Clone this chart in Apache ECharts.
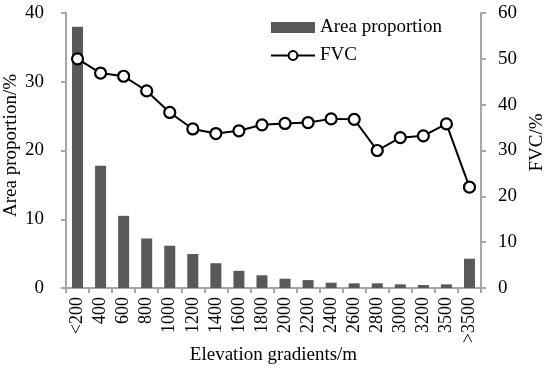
<!DOCTYPE html>
<html><head><meta charset="utf-8">
<script src="https://cdn.jsdelivr.net/npm/echarts@6/dist/echarts.min.js"></script>
<style>html,body{margin:0;padding:0;background:#fff}#c{width:550px;height:369px}</style>
</head><body><div id="c"></div>
<script>
const categories = ['<200','400','600','800','1000','1200','1400','1600','1800','2000','2200','2400','2600','2800','3000','3200','3500','>3500'];
const areaProportion = [38.0,17.8,10.5,7.2,6.15,4.95,3.6,2.5,1.85,1.35,1.15,0.77,0.68,0.68,0.53,0.44,0.53,4.26];
const fvc = [50.0,46.9,46.2,43.0,38.3,34.7,33.7,34.3,35.6,35.9,36.1,36.9,36.8,30.0,32.8,33.2,35.8,22.0];
const leftTicks = {min:0,max:40,interval:10};
const rightTicks = {min:0,max:60,interval:10};

const font = '"Liberation Serif","Times New Roman",serif';
const axisGray = '#a6a6a6';
const chart = echarts.init(document.getElementById('c'), null, {renderer:'canvas'});
chart.setOption({
  backgroundColor:'#fff',
  animation:false,
  textStyle:{fontFamily:font},
  grid:{left:66,right:69,top:13,bottom:81,containLabel:false,outerBoundsMode:'none'},
  legend:{
    orient:'vertical', left:265, top:13, itemGap:9, itemWidth:44, itemHeight:11,
    textStyle:{fontFamily:font,fontSize:19,color:'#000'},
    data:[{name:'Area proportion',icon:'rect'},{name:'FVC'}]
  },
  xAxis:{
    type:'category', data:categories,
    name:'Elevation gradients/m', nameLocation:'middle', nameGap:58, nameMoveOverlap:false,
    nameTextStyle:{fontFamily:font,fontSize:19,color:'#000'},
    axisLine:{lineStyle:{color:axisGray,width:2}},
    axisTick:{show:true,length:5,lineStyle:{color:axisGray,width:2},alignWithLabel:false},
    axisLabel:{rotate:90,margin:9,fontFamily:font,fontSize:18,color:'#000',interval:0}
  },
  yAxis:[{
    type:'value', min:leftTicks.min, max:leftTicks.max, interval:leftTicks.interval,
    name:'Area proportion/%', nameLocation:'middle', nameGap:45, nameRotate:90, nameMoveOverlap:false,
    nameTextStyle:{fontFamily:font,fontSize:19,color:'#000',padding:[0,0,0,10]},
    axisLine:{show:true,lineStyle:{color:axisGray,width:2}},
    axisTick:{show:true,length:5,lineStyle:{color:axisGray,width:2}},
    axisLabel:{margin:22,fontFamily:font,fontSize:19,color:'#000'},
    splitLine:{show:false}
  },{
    type:'value', min:rightTicks.min, max:rightTicks.max, interval:rightTicks.interval,
    position:'right',
    name:'FVC/%', nameLocation:'middle', nameGap:47, nameRotate:90, nameMoveOverlap:false,
    nameTextStyle:{fontFamily:font,fontSize:19,color:'#000',padding:[0,0,0,16]},
    axisLine:{show:true,lineStyle:{color:axisGray,width:2}},
    axisTick:{show:true,length:5,lineStyle:{color:axisGray,width:2}},
    axisLabel:{margin:17,fontFamily:font,fontSize:19,color:'#000'},
    splitLine:{show:false}
  }],
  series:[{
    name:'Area proportion', type:'bar', yAxisIndex:0, data:areaProportion,
    barWidth:11, itemStyle:{color:'#595959'}
  },{
    name:'FVC', type:'line', yAxisIndex:1, data:fvc,
    symbol:'circle', symbolSize:11,
    lineStyle:{color:'#000',width:2},
    itemStyle:{color:'#fff',borderColor:'#000',borderWidth:2.2}
  }]
});
</script></body></html>
